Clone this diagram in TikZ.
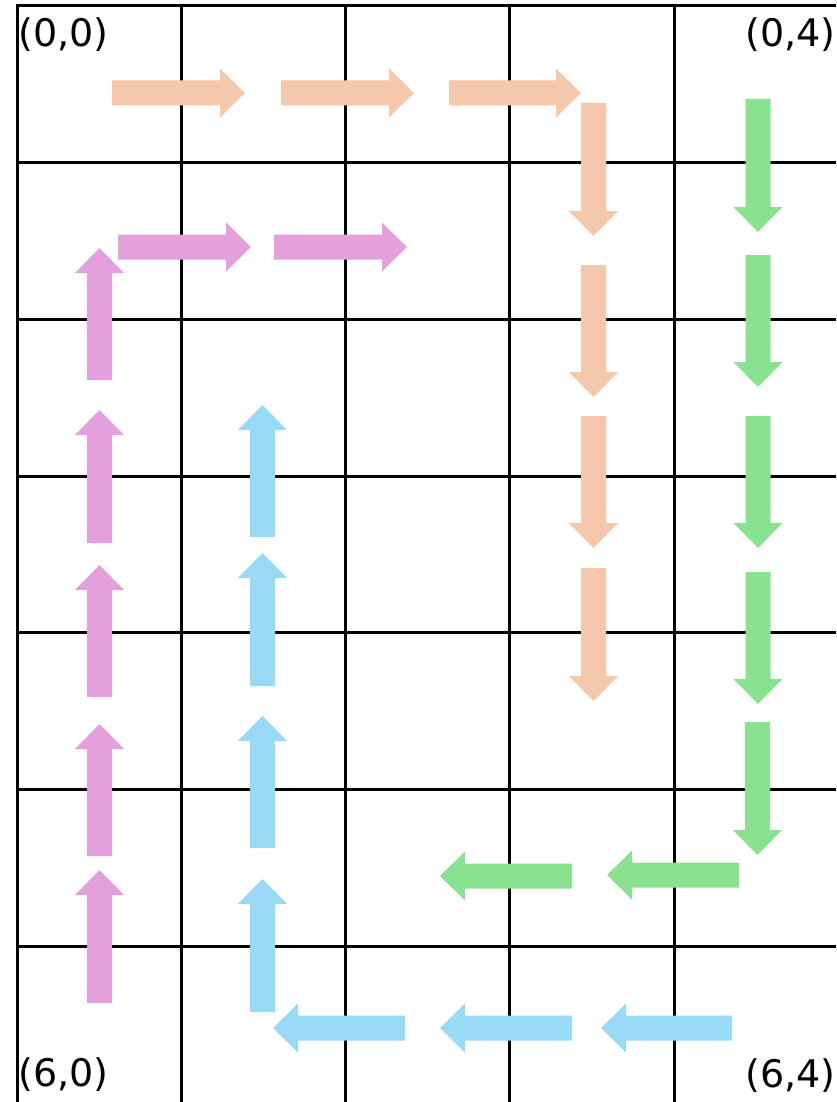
\documentclass[tikz,border=0pt]{standalone}
\usepackage{fontspec}
\setmainfont{DejaVu Sans}
\definecolor{cor}{HTML}{F5C7AB}
\definecolor{cgr}{HTML}{88E28F}
\definecolor{cbl}{HTML}{98DAF6}
\definecolor{cpk}{HTML}{E3A0DC}
% block arrow: colour, tail x, tail y, angle, length
\newcommand{\barr}[5]{%
  \begin{scope}[shift={(#2,#3)},rotate=#4]
    \fill[#1] (0,12.5) -- (#5-25,12.5) -- (#5-25,24.5) -- (#5,0) -- (#5-25,-24.5) -- (#5-25,-12.5) -- (0,-12.5) -- cycle;
  \end{scope}}
\begin{document}
\begin{tikzpicture}[x=1pt,y=-1pt,
  gridline/.style={line width=3pt,black},
  lbl/.style={inner sep=0pt,font=\fontsize{38}{40}\selectfont}]
\useasboundingbox (0,0) rectangle (836,1102);
\fill[white] (0,0) rectangle (836,1102);
% grid
\foreach \i in {0,...,4} {\draw[gridline] (17+164.33*\i,6) -- (17+164.33*\i,1102);}
\foreach \j in {0,...,6} {\draw[gridline] (15.5,6+156.67*\j) -- (836,6+156.67*\j);}
% orange
\barr{cor}{112}{93}{0}{133}
\barr{cor}{281}{93}{0}{133}
\barr{cor}{449}{93}{0}{132}
\barr{cor}{593.5}{103}{-90}{133}
\barr{cor}{593.5}{265}{-90}{132}
\barr{cor}{593.5}{416}{-90}{132}
\barr{cor}{593.5}{568}{-90}{133}
% green
\barr{cgr}{758}{99}{-90}{133}
\barr{cgr}{758}{255}{-90}{132}
\barr{cgr}{758}{416}{-90}{132}
\barr{cgr}{758}{572}{-90}{132}
\barr{cgr}{757.5}{722}{-90}{133}
\barr{cgr}{739}{875}{180}{132}
\barr{cgr}{572}{876}{180}{132}
% blue
\barr{cbl}{732}{1028}{180}{131}
\barr{cbl}{572}{1028}{180}{132}
\barr{cbl}{405}{1028}{180}{132}
\barr{cbl}{262.5}{1012}{90}{133}
\barr{cbl}{262.5}{848}{90}{132}
\barr{cbl}{262.5}{686}{90}{133}
\barr{cbl}{262.5}{537}{90}{132}
% pink
\barr{cpk}{99.5}{1003}{90}{133}
\barr{cpk}{99.5}{856}{90}{132}
\barr{cpk}{99.5}{697}{90}{132}
\barr{cpk}{99.5}{543}{90}{133}
\barr{cpk}{99.5}{380}{90}{132}
\barr{cpk}{118}{247}{0}{133}
\barr{cpk}{274}{247}{0}{133}
% labels
\node[lbl,anchor=base west] (l00) at (18,47) {(0,0)};
\node[lbl,anchor=base east] (l04) at (836,47) {(0,4)};
\node[lbl,anchor=base west] (l60) at (18,1086) {(6,0)};
\node[lbl,anchor=base east] (l64) at (836,1087) {(6,4)};
\end{tikzpicture}
\end{document}
